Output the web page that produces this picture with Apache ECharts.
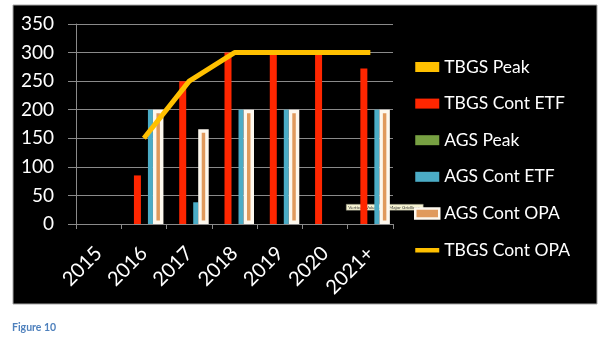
<!DOCTYPE html>
<html>
<head>
<meta charset="utf-8">
<script src="https://cdn.jsdelivr.net/npm/echarts@6/dist/echarts.min.js"></script>
<style>
  html, body { margin: 0; padding: 0; background: #ffffff; }
  #chart { width: 610px; height: 339px; }
</style>
</head>
<body>
<div id="chart"></div>
<script>
// Year buckets on the horizontal axis
var years = ['2015', '2016', '2017', '2018', '2019', '2020', '2021+'];
var yTicks = [0, 50, 100, 150, 200, 250, 300, 350];

// Series values (null = nothing drawn for that year)
var tbgsPeak     = [null, null, null, null, null, null, null];
var tbgsContEtf  = [null, 85, 250, 300, 300, 300, 272];
var agsPeak      = [null, null, null, null, null, null, null];
var agsContEtf   = [null, 200, 38, 200, 200, null, 200];
var agsContOpa   = [null, 200, 166, 200, 200, null, 200];
var tbgsContOpa  = [null, 150, 250, 300, 300, 300, 300];

var FONT = 'Lato, "Open Sans", sans-serif';
var GRID_GREY = '#8a8a8a';
var OPA_FILL = '#e09a5c';
var OPA_EDGE = '#fdf8ee';
// thin bar centred in a 24x10 box, used as the legend key of the line series
var LINE_KEY = 'path://M0,0 M24,10 M0,3 L24,3 L24,7.5 L0,7.5 Z';

var chart = echarts.init(document.getElementById('chart'), null, { renderer: 'canvas' });

function barSeries(name, data, color, width, extraStyle) {
  var style = { color: color };
  if (extraStyle) { for (var k in extraStyle) { style[k] = extraStyle[k]; } }
  return {
    name: name,
    type: 'bar',
    data: data,
    barGap: '0%',
    barWidth: width,
    itemStyle: style,
    emphasis: { disabled: true }
  };
}

chart.setOption({
  backgroundColor: '#ffffff',
  animation: false,
  textStyle: { fontFamily: FONT },
  graphic: [
    {
      type: 'rect', z: -10, silent: true,
      shape: { x: 13, y: 5, width: 584, height: 299 },
      style: { fill: '#000000', stroke: '#a6a6a6', lineWidth: 1 }
    },
    {
      type: 'text', left: 12, top: 322, silent: true,
      style: { text: 'Figure 10', fill: '#4f81bd', font: 'bold 10.5px ' + FONT }
    },
    {
      type: 'group', left: 346, top: 204, z: 1, silent: true,
      children: [
        { type: 'rect', shape: { x: 0, y: 0, width: 77, height: 6 },
          style: { fill: '#f6f3d2', stroke: '#7a7a6a', lineWidth: 0.5 } },
        { type: 'text', x: 2, y: 0.6,
          style: { text: 'Vertical (Value) Axis Major Gridlines', fill: '#333333', font: '4.6px ' + FONT } }
      ]
    }
  ],
  grid: { left: 76, top: 24, width: 317, height: 200, containLabel: false },
  legend: {
    orient: 'vertical',
    left: 409,
    top: 52,
    z: 10,
    itemWidth: 24,
    itemHeight: 10,
    itemGap: 16.6,
    textStyle: { color: '#ffffff', fontSize: 17.5, lineHeight: 20, fontFamily: FONT },
    selectedMode: false,
    data: [
      { name: 'TBGS Peak', icon: 'rect' },
      { name: 'TBGS Cont ETF', icon: 'rect' },
      { name: 'AGS Peak', icon: 'rect' },
      { name: 'AGS Cont ETF', icon: 'rect' },
      { name: 'AGS Cont OPA', icon: 'rect',
        itemStyle: { color: OPA_FILL, borderColor: OPA_EDGE, borderWidth: 2.5 } },
      { name: 'TBGS Cont OPA', icon: LINE_KEY,
        itemStyle: { color: '#ffc000', borderWidth: 0 } }
    ]
  },
  xAxis: {
    type: 'category',
    data: years,
    boundaryGap: true,
    axisLine: { show: true, lineStyle: { color: GRID_GREY, width: 1 } },
    axisTick: { show: true, length: 5, alignWithLabel: false, lineStyle: { color: GRID_GREY } },
    axisLabel: { color: '#ffffff', fontSize: 20, fontFamily: FONT, rotate: 45, margin: 26, interval: 0 },
    splitLine: { show: false }
  },
  yAxis: {
    type: 'value',
    min: yTicks[0],
    max: yTicks[yTicks.length - 1],
    interval: 50,
    axisLine: { show: true, lineStyle: { color: GRID_GREY, width: 1 } },
    axisTick: { show: true, length: 8, lineStyle: { color: GRID_GREY } },
    axisLabel: { color: '#ffffff', fontSize: 19, fontFamily: FONT, margin: 22 },
    splitLine: { show: true, lineStyle: { color: GRID_GREY, width: 1 } }
  },
  series: [
    barSeries('TBGS Peak', tbgsPeak, '#ffc000', 9.5),
    barSeries('TBGS Cont ETF', tbgsContEtf, '#ff2600', 7),
    barSeries('AGS Peak', agsPeak, '#77a042', 7),
    barSeries('AGS Cont ETF', agsContEtf, '#4bacc6', 5),
    barSeries('AGS Cont OPA', agsContOpa, OPA_FILL, 10.5,
      { borderColor: OPA_EDGE, borderWidth: 3.5 }),
    {
      name: 'TBGS Cont OPA',
      type: 'line',
      data: tbgsContOpa,
      symbol: 'none',
      showSymbol: false,
      z: 5,
      lineStyle: { color: '#ffc000', width: 5 },
      itemStyle: { color: '#ffc000' },
      emphasis: { disabled: true }
    }
  ]
});
</script>
</body>
</html>
